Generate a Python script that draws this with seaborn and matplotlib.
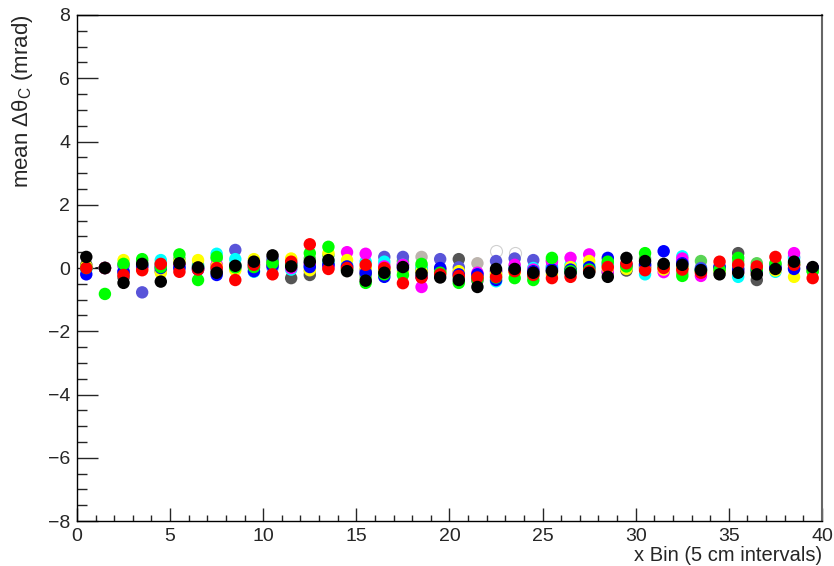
import numpy as np
import pandas as pd
import matplotlib
matplotlib.use("Agg")
import matplotlib.pyplot as plt
import seaborn as sns
from matplotlib.ticker import MultipleLocator

sns.set_style("ticks")
plt.rcParams['font.family'] = ['Liberation Sans', 'DejaVu Sans']
plt.rcParams['mathtext.fontset'] = 'custom'
plt.rcParams['mathtext.rm'] = 'Liberation Sans'
plt.rcParams['mathtext.it'] = 'Liberation Sans'

x_bins = [i + 0.5 for i in range(40)]

open_gray = [0.0, 0.0, 0.0, 0.0, 0.0, 0.0, 0.0, 0.0, 0.0, 0.0,
             0.0, 0.0, 0.0, 0.0, 0.0, 0.0, 0.0, 0.0, 0.0, 0.0,
             0.0, 0.0, 0.55, 0.47, 0.0, 0.0, 0.0, 0.0, 0.0, 0.0,
             0.0, 0.0, 0.0, 0.0, 0.0, 0.0, 0.0, 0.0, 0.0, 0.0]
light_gray = [0.05, 0.0, -0.2, 0.05, -0.05, 0.0, 0.05, 0.1, 0.0, 0.1,
              0.1, 0.25, -0.1, 0.0, -0.1, -0.1, 0.1, 0.2, 0.35, 0.0,
              -0.1, 0.15, -0.1, -0.05, -0.1, 0.0, -0.1, -0.05, -0.1, -0.05,
              0.05, 0.0, 0.05, 0.0, 0.0, 0.1, -0.05, 0.1, 0.1, 0.0]
dark_gray = [0.1, 0.0, -0.3, 0.1, -0.1, 0.1, 0.0, -0.1, 0.1, 0.15,
             0.2, -0.32, -0.22, 0.15, -0.05, -0.2, -0.1, 0.1, -0.1, -0.05,
             0.28, -0.4, -0.1, -0.1, -0.2, -0.1, -0.15, -0.1, -0.15, -0.08,
             0.0, 0.0, 0.0, -0.05, -0.1, 0.47, -0.38, 0.0, 0.0, 0.0]
light_green = [0.0, 0.0, 0.1, 0.2, 0.15, 0.3, 0.1, 0.3, 0.1, 0.05,
               0.2, 0.0, 0.3, 0.4, 0.0, -0.3, 0.0, 0.22, 0.05, -0.1,
               -0.3, -0.3, -0.2, 0.05, -0.25, 0.25, 0.0, 0.0, 0.1, 0.0,
               0.3, 0.1, -0.15, 0.22, 0.0, 0.2, 0.15, 0.1, 0.1, -0.1]
slate_blue = [0.0, 0.0, -0.1, -0.77, 0.1, 0.05, 0.0, 0.0, 0.57, 0.1,
              0.3, 0.1, 0.15, 0.1, 0.05, -0.05, 0.35, 0.35, -0.05, 0.28,
              0.02, -0.2, 0.22, 0.3, 0.25, 0.05, -0.05, 0.0, 0.15, 0.1,
              0.1, 0.1, 0.2, 0.0, 0.0, 0.0, 0.0, 0.05, 0.35, 0.0]
cyan = [-0.05, 0.0, 0.05, 0.1, 0.25, 0.05, 0.05, 0.45, 0.28, -0.12,
        0.0, -0.05, 0.05, 0.2, 0.1, 0.2, 0.2, 0.1, 0.0, -0.1,
        -0.2, -0.3, -0.42, 0.0, 0.0, 0.0, 0.1, 0.1, 0.1, 0.0,
        -0.2, 0.05, 0.37, -0.05, -0.1, -0.28, -0.05, -0.12, 0.3, -0.05]
magenta = [0.0, 0.0, 0.08, 0.0, 0.05, 0.1, -0.03, 0.1, 0.0, 0.0,
           0.05, 0.0, 0.1, 0.05, 0.5, 0.45, 0.05, 0.1, -0.6, -0.05,
           -0.15, -0.15, -0.1, 0.1, -0.05, 0.2, 0.32, 0.43, -0.1, 0.0,
           0.05, -0.13, 0.3, -0.25, -0.05, -0.1, -0.1, -0.05, 0.47, 0.0]
yellow = [0.05, 0.0, 0.25, -0.05, -0.15, 0.2, 0.25, 0.05, -0.07, 0.28,
          0.1, 0.3, -0.07, 0.47, 0.25, 0.0, -0.05, -0.1, -0.1, -0.1,
          -0.1, -0.25, -0.2, -0.15, -0.1, -0.2, 0.03, 0.22, 0.0, -0.03,
          0.0, -0.05, 0.0, -0.1, -0.1, -0.05, -0.15, -0.08, -0.28, -0.05]
blue = [-0.2, 0.0, -0.12, 0.05, 0.0, 0.0, -0.05, -0.22, 0.05, -0.1,
        0.07, 0.15, 0.03, 0.1, 0.05, -0.15, -0.28, 0.0, -0.28, 0.0,
        -0.2, -0.2, -0.38, -0.05, -0.1, -0.05, -0.05, 0.03, 0.32, 0.1,
        0.12, 0.53, 0.15, -0.05, 0.05, -0.05, -0.1, 0.0, -0.03, 0.0]
green = [0.0, -0.82, 0.13, 0.28, 0.03, 0.43, -0.38, 0.35, 0.02, 0.03,
         0.15, 0.1, 0.47, 0.67, -0.05, -0.47, -0.2, -0.22, 0.13, -0.15,
         -0.47, -0.35, -0.3, -0.32, -0.38, 0.32, -0.1, -0.05, 0.2, 0.05,
         0.47, 0.05, -0.25, -0.1, -0.05, 0.32, -0.05, 0.15, 0.15, -0.1]
red = [0.0, 0.0, -0.22, -0.07, 0.13, -0.12, -0.05, 0.0, -0.38, 0.1,
       -0.2, 0.2, 0.75, -0.03, 0.0, 0.1, 0.0, -0.48, -0.3, -0.2,
       -0.25, -0.3, -0.28, -0.1, -0.22, -0.32, -0.28, -0.1, 0.03, 0.15,
       -0.07, 0.0, -0.05, -0.15, 0.2, 0.1, 0.05, 0.35, 0.1, -0.32]
black = [0.35, 0.0, -0.47, 0.13, -0.43, 0.15, 0.02, -0.15, 0.07, 0.2,
         0.4, 0.05, 0.2, 0.25, -0.1, -0.4, -0.15, 0.03, -0.18, -0.3,
         -0.38, -0.6, -0.03, -0.03, -0.15, -0.1, -0.15, -0.15, -0.28, 0.32,
         0.22, 0.13, 0.1, -0.07, -0.2, -0.15, -0.2, -0.03, 0.2, 0.03]

seg_x = [1.0, 1.5]
seg_y = [0.0, 0.0]

series = [
    ("lightgray", light_gray, "#bcb4ad"),
    ("darkgray", dark_gray, "#555555"),
    ("lightgreen", light_green, "#59d454"),
    ("slateblue", slate_blue, "#5954d9"),
    ("cyan", cyan, "#00ffff"),
    ("magenta", magenta, "#ff00ff"),
    ("yellow", yellow, "#ffff00"),
    ("blue", blue, "#0000ff"),
    ("green", green, "#00ff00"),
    ("red", red, "#ff0000"),
    ("black", black, "#000000"),
]

rows = []
for name, vals, _ in series:
    for xv, yv in zip(x_bins, vals):
        rows.append((xv, yv, name))
df = pd.DataFrame(rows, columns=["x", "y", "series"])
palette = {name: col for name, _, col in series}

fig = plt.figure(figsize=(8.34, 5.66), dpi=100)
ax = fig.add_axes([0.0923, 0.0795, 0.8933, 0.894])

# open light-gray markers (drawn first)
og = pd.DataFrame({"x": x_bins, "y": open_gray})
og = og[og["y"] != 0.0]
sns.scatterplot(data=og, x="x", y="y", ax=ax, s=75, color="#ffffff",
                edgecolor="#d0d0d0", linewidth=0.8, legend=False, zorder=2)

ax.plot(seg_x, seg_y, color="black", lw=1.2, zorder=2)

sns.scatterplot(data=df, x="x", y="y", hue="series", palette=palette,
                hue_order=[s[0] for s in series], s=80, linewidth=0,
                legend=False, ax=ax, zorder=3)

ax.set_xlim(0, 40)
ax.set_ylim(-8, 8)
ax.xaxis.set_major_locator(MultipleLocator(5))
ax.xaxis.set_minor_locator(MultipleLocator(1))
ax.yaxis.set_major_locator(MultipleLocator(2))
ax.yaxis.set_minor_locator(MultipleLocator(0.5))
ax.tick_params(axis="x", which="major", direction="in", length=9.5, width=1, labelsize=14, pad=5)
ax.tick_params(axis="x", which="minor", direction="in", length=4.5, width=1)
ax.tick_params(axis="y", which="major", direction="in", length=15, width=1, labelsize=14, pad=5)
ax.tick_params(axis="y", which="minor", direction="in", length=7.5, width=1)
for sp in ax.spines.values():
    sp.set_visible(True)
    sp.set_linewidth(1)
    sp.set_color("black")
ax.spines["right"].set_color("#666666")
ax.spines["right"].set_linewidth(1.5)

ax.set_xlabel("x Bin (5 cm intervals)", fontsize=14.5, loc="right", labelpad=1)
ax.set_ylabel("mean \u0394\u03b8$_{\\mathregular{C}}$ (mrad)", fontsize=16, loc="top", labelpad=9)

fig.savefig("out.png", dpi=100)
